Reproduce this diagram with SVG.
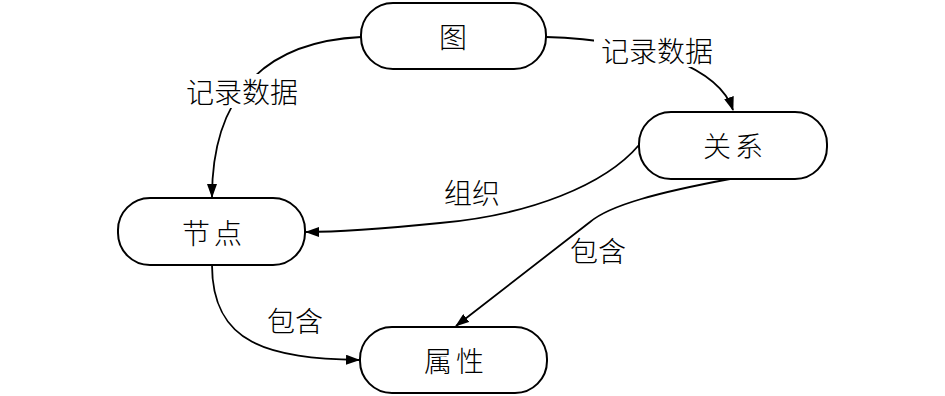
<svg xmlns="http://www.w3.org/2000/svg" width="945" height="396" viewBox="0 0 945 396">
<style>
.node rect{fill:#fff;stroke:#000;stroke-width:2}
.node text{font-family:"Noto Sans CJK SC","Liberation Sans",sans-serif;font-size:28px;font-weight:300;text-anchor:middle;dominant-baseline:central;letter-spacing:4px}
.edge path{fill:none;stroke:#000;stroke-width:1.8}
.lbl{font-family:"Noto Sans CJK SC","Liberation Sans",sans-serif;font-size:28px;font-weight:300;text-anchor:middle;dominant-baseline:central}
.bg{fill:#fff}
</style>
<defs>
<marker id="arr" viewBox="0 0 14 10" refX="13" refY="5" markerWidth="14" markerHeight="10" markerUnits="userSpaceOnUse" orient="auto">
<path d="M0,0 L14,5 L0,10 Z" fill="#000"/>
</marker>
</defs>
<rect width="945" height="396" fill="#fff"/>
<g id="connectors" class="edge">
<path d="M361,37 C260,42 212,100 212,197" marker-end="url(#arr)"/>
<path d="M546,37 C650,40 720,70 733,110" marker-end="url(#arr)"/>
<path d="M639,145 C605,185 530,215 440,223 C390,228 340,232 306,232" marker-end="url(#arr)"/>
<path d="M730,179 C660,192 610,205 590,222 L456,326" marker-end="url(#arr)"/>
<path d="M212,265 C212,345 270,358 359,360" marker-end="url(#arr)"/>
</g>
<g id="labels">
<rect class="bg" x="178" y="74" width="128" height="34"/>
<text class="lbl" x="242" y="91">记录数据</text>
<rect class="bg" x="594" y="33" width="128" height="34"/>
<text class="lbl" x="657" y="50">记录数据</text>
<text class="lbl" x="472" y="192">组织</text>
<text class="lbl" x="598" y="250">包含</text>
<text class="lbl" x="295" y="320">包含</text>
</g>
<g id="node-tu" class="node">
<rect x="361" y="3" width="185" height="66" rx="32" ry="32"/>
<text x="455" y="36">图</text>
</g>
<g id="node-guanxi" class="node">
<rect x="639" y="112" width="188" height="67" rx="32" ry="32"/>
<text x="735" y="145">关系</text>
</g>
<g id="node-jiedian" class="node">
<rect x="118" y="198" width="187" height="67" rx="32" ry="32"/>
<text x="214" y="232">节点</text>
</g>
<g id="node-shuxing" class="node">
<rect x="360" y="327" width="187" height="66" rx="32" ry="32"/>
<text x="456" y="360">属性</text>
</g>
</svg>
